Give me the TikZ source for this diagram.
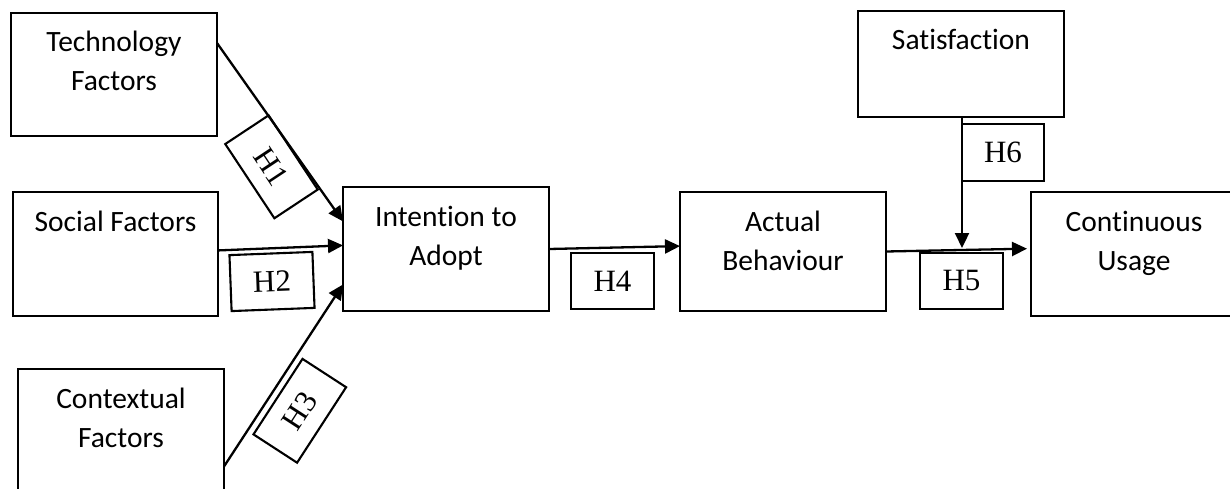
\documentclass[tikz,border=0pt]{standalone}
\usepackage{fontspec}
\setmainfont{Carlito}[Ligatures={NoCommon}]
\newfontfamily\tnr{Liberation Serif}
\usetikzlibrary{arrows.meta}
\newcommand{\bxt}[3]{\parbox[c][#2pt][t]{#1pt}{\centering\rule{0pt}{39pt}#3}}
\tikzset{
  box/.style={draw, line width=1.7pt, inner sep=0pt, outer sep=0pt,
    font=\fontsize{29.5}{39}\selectfont},
  hbox/.style={draw, line width=2.1pt, inner sep=0pt, outer sep=0pt,
    font=\tnr\fontsize{31}{36}\selectfont},
  arr/.style={line width=2.3pt, -{Triangle[length=15pt,width=14pt]}}
}
\begin{document}
\begin{tikzpicture}[x=1pt,y=-1pt]
\useasboundingbox (0,0) rectangle (1230,489);
% boxes
\node[box] (tech) at (114,74.5) {\bxt{206}{123}{Technology\\Factors}};
\node[box] (social) at (115.5,254) {\bxt{205}{124}{Social Factors}};
\node[box] (context) at (121,431) {\bxt{206}{124}{Contextual\\Factors}};
\node[box] (intent) at (446,249) {\bxt{206}{124}{Intention to\\Adopt}};
\node[box] (actual) at (783,251.5) {\bxt{206}{119}{Actual\\Behaviour}};
\node[box] (satis) at (961,64) {\bxt{206}{106}{Satisfaction}};
\node[box] (cont) at (1134,254) {\bxt{206}{124}{Continuous\\Usage}};
% hypothesis labels
\node[hbox, minimum width=89pt, minimum height=52pt, rotate=-56.5] (h1) at (271.5,166.8) {H1};
\node[hbox, minimum width=83pt, minimum height=56pt, rotate=2.2] (h2) at (272,281.5) {H2};
\node[hbox, minimum width=90pt, minimum height=52pt, rotate=57] (h3) at (299.8,410.8) {H3};
\node[hbox, minimum width=83pt, minimum height=56pt] (h4) at (612.5,281) {H4};
\node[hbox, minimum width=83pt, minimum height=56pt] (h5) at (961.5,281) {H5};
\node[hbox, minimum width=82pt, minimum height=57pt] (h6) at (1003,152.5) {H6};
\coordinate (h6end) at (962,248);
% connectors
\draw[arr] (tech.17.5) -- (intent.165.3);
\draw[arr] (social.2.2) -- (intent.178.3);
\draw[arr] (context.-19.8) -- (intent.-161.7);
\draw[arr] (intent.-0.56) -- (actual.177.5);
\draw[arr, shorten >=4pt] (actual.0.8) -- (cont.177.8);
\draw[arr] (satis.south -| h6end) -- (h6end);
\end{tikzpicture}
\end{document}
